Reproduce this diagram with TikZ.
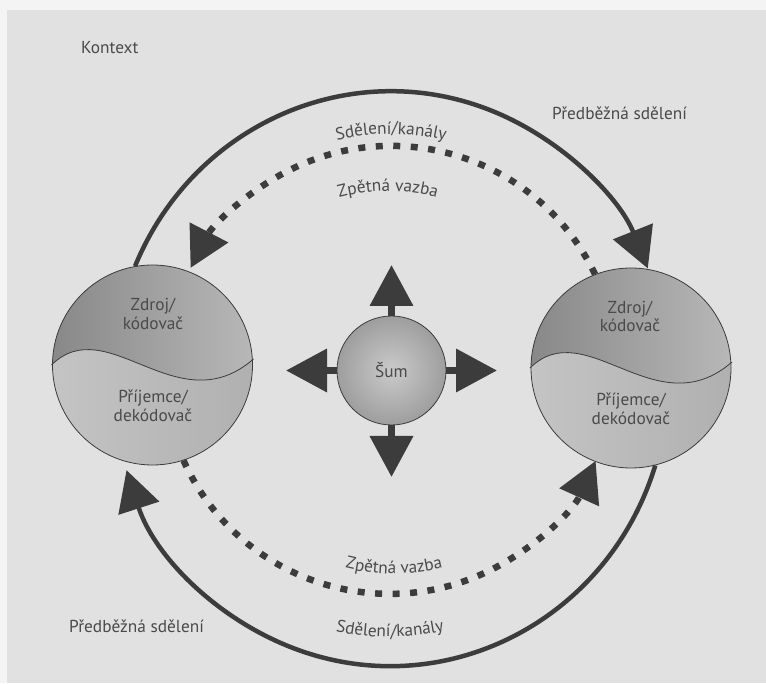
\documentclass[tikz,border=0pt]{standalone}
\usepackage{fontspec}
\setmainfont{PT Sans}
\usetikzlibrary{arrows.meta,decorations.text}
\definecolor{page}{HTML}{E1E1E1}
\definecolor{strip}{HTML}{F4F4F4}
\definecolor{ink}{HTML}{3C3C3C}
\definecolor{txt}{HTML}{4A4A4A}
\definecolor{topdark}{HTML}{888888}
\definecolor{toplight}{HTML}{B8B8B8}
\definecolor{botlight}{HTML}{C4C4C4}
\definecolor{botdark}{HTML}{B0B0B0}
\definecolor{noisein}{HTML}{CACACA}
\definecolor{noiseout}{HTML}{9E9E9E}
\newcommand\lblfont{\fontsize{17.3}{18.5}\selectfont}
\begin{document}
\begin{tikzpicture}[x=1pt,y=1pt,
  sphere/.style={circle, draw=ink, line width=0.8pt, minimum size=#1, inner sep=0pt},
  lbl/.style={font=\lblfont, text=txt, inner sep=0pt},
  inlbl/.style={font=\lblfont, text=txt, align=center, inner sep=0pt},
  solidarc/.style={draw=ink, line width=4.5pt, -{Triangle[length=40pt,width=42pt]}},
  dasharc/.style={draw=ink, line width=6.5pt, dash pattern=on 7pt off 10.5pt, -{Triangle[length=40pt,width=42pt]}},
  noisearrow/.style={draw=ink, line width=7pt, -{Triangle[length=41pt,width=42pt]}},
  curvedtext/.style={decorate, decoration={text along path, text align=center, text={|\lblfont\color{txt}|#1}}},
  halfsphere/.pic={
    \begin{scope}
      \clip (0,0) circle[radius=100];
      \shade[left color=botlight, right color=botdark] (-101,-101) rectangle (101,101);
      \shade[left color=topdark, right color=toplight]
        (-101,0) .. controls (-45,55) and (25,-60) .. (101,6) -- (101,101) -- (-101,101) -- cycle;
    \end{scope}
    \draw[ink, line width=0.8pt] (-101,0) .. controls (-45,55) and (25,-60) .. (101,6);
  },
]
\useasboundingbox (0,0) rectangle (766,683);
\fill[page] (0,0) rectangle (766,683);
\fill[strip] (0,673) rectangle (766,683);
\fill[strip] (0,0) rectangle (7,683);

% spheres
\pic at (152.5,318) {halfsphere};
\node[sphere=200pt] (L) at (152.5,318) {};
\pic at (631,315) {halfsphere};
\node[sphere=200pt] (R) at (631,315) {};

\node[inlbl] (Ltop) at (153,369) {Zdroj/\\kódovač};
\node[inlbl] (Lbot) at (153,277) {Příjemce/\\dekódovač};
\node[inlbl] (Rtop) at (630,366.5) {Zdroj/\\kódovač};
\node[inlbl] (Rbot) at (631,274) {Příjemce/\\dekódovač};

% noise
\node[circle, draw=ink, line width=0.8pt, minimum size=109pt, inner sep=0pt,
      inner color=noisein, outer color=noiseout, font=\lblfont, text=txt] (S) at (391.5,312.5) {Šum};
\coordinate (nN) at (391.5,418);
\coordinate (nS) at (391.5,206);
\coordinate (nW) at (286,312.5);
\coordinate (nE) at (497,312.5);
\draw[noisearrow] (S.north) -- (nN);
\draw[noisearrow] (S.south) -- (nS);
\draw[noisearrow] (S.west) -- (nW);
\draw[noisearrow] (S.east) -- (nE);

% message arcs
\draw[solidarc] (L.100) arc[start angle=157, end angle=22.5, x radius=278, y radius=287];
\draw[solidarc] (R.-76) arc[start angle=-17.5, end angle=-161.5, x radius=278, y radius=287];
% feedback arcs
\draw[dasharc] (R.111) arc[start angle=25.6, end angle=152.6, radius=226];
\draw[dasharc] (L.-72) arc[start angle=204.2, end angle=335.7, radius=226];

% labels
\node[lbl, anchor=west] (kontext) at (81,635) {Kontext};
\node[lbl, anchor=west] (pred1) at (552,570) {Předběžná sdělení};
\node[lbl, anchor=west] (pred2) at (69,57) {Předběžná sdělení};
\path[curvedtext={Sdělení/kanály}] (391,308) ++(115:241) arc[start angle=115, end angle=65, radius=241];
\path[curvedtext={Zpětná vazba}] (388,308) ++(110:184) arc[start angle=110, end angle=70, radius=184];
\path[curvedtext={Zpětná vazba}] (394,308) ++(245:199) arc[start angle=245, end angle=295, radius=199];
\path[curvedtext={Sdělení/kanály}] (390,308) ++(247:262) arc[start angle=247, end angle=293, radius=262];
\end{tikzpicture}
\end{document}
